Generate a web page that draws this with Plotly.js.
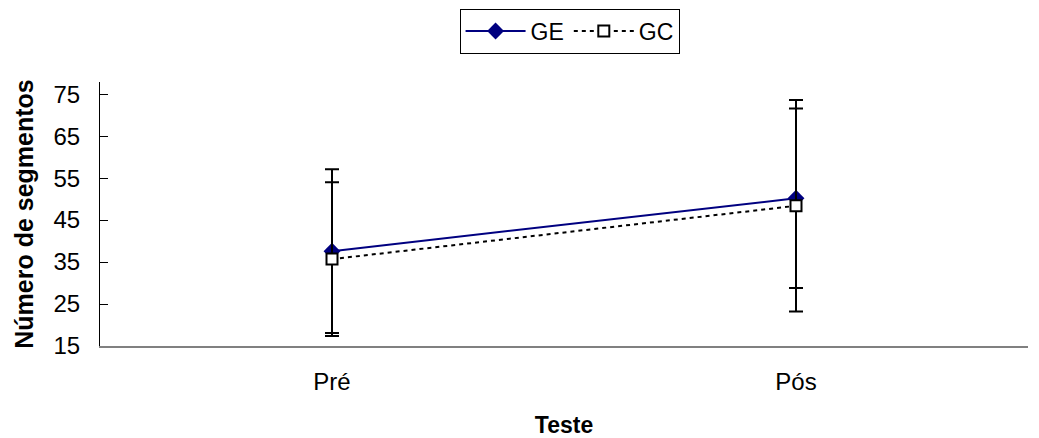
<!DOCTYPE html>
<html><head><meta charset="utf-8">
<script src="https://cdn.plot.ly/plotly-3.0.1.min.js"></script>
<style>body{margin:0;background:#fff}#chart{width:1039px;height:438px}</style>
</head><body><div id="chart"></div>
<script>
const categories = ['Pré', 'Pós'];
const geValues = [37.6, 50.2];
const geErrors = [19.5, 21.4];
const gcValues = [35.7, 48.4];
const gcErrors = [18.3, 25.2];
const yTicks = [15, 25, 35, 45, 55, 65, 75];

const font = 'Liberation Sans, Arial, sans-serif';
const traces = [
  {x: categories, y: geValues, name: 'GE', type: 'scatter', mode: 'lines+markers',
   line: {color: '#000080', width: 2},
   marker: {symbol: 'diamond', size: 13, color: '#000080'},
   error_y: {type: 'data', array: geErrors, visible: true, color: '#000', thickness: 2, width: 7}},
  {x: categories, y: gcValues, name: 'GC', type: 'scatter', mode: 'lines+markers',
   line: {color: '#000', width: 2, dash: '4px,4px'},
   marker: {symbol: 'square', size: 11, color: '#fff', line: {color: '#000', width: 2}},
   error_y: {type: 'data', array: gcErrors, visible: true, color: '#000', thickness: 2, width: 7}}
];
const layout = {
  width: 1039, height: 438,
  margin: {l: 100, r: 11, t: 82, b: 92, autoexpand: false},
  paper_bgcolor: '#fff', plot_bgcolor: '#fff',
  font: {family: font, size: 23, color: '#000'},
  showlegend: true,
  legend: {orientation: 'h', x: 0.506, xanchor: 'center', y: 1.193, yanchor: 'middle',
    bordercolor: '#000', borderwidth: 1, font: {size: 23}, itemwidth: 60,
    tracegroupgap: 0},
  xaxis: {type: 'category', range: [-0.5, 1.5], showline: true, linecolor: '#808080', linewidth: 1.5,
    showgrid: false, zeroline: false, ticks: '', ticklabelstandoff: 14,
    tickfont: {size: 24},
    title: {text: '<b>Teste</b>', font: {size: 23}, standoff: 27}},
  yaxis: {range: [15, 77.9], tickvals: yTicks, showline: true, linecolor: '#000', linewidth: 1,
    showgrid: false, zeroline: false, ticks: 'inside', ticklen: 8, tickcolor: '#000',
    tickfont: {size: 24}, ticklabelstandoff: 14,
    title: {text: '<b>Número de segmentos</b>', font: {size: 25}, standoff: 12}}
};
Plotly.newPlot('chart', traces, layout, {displayModeBar: false, staticPlot: true});
</script></body></html>
